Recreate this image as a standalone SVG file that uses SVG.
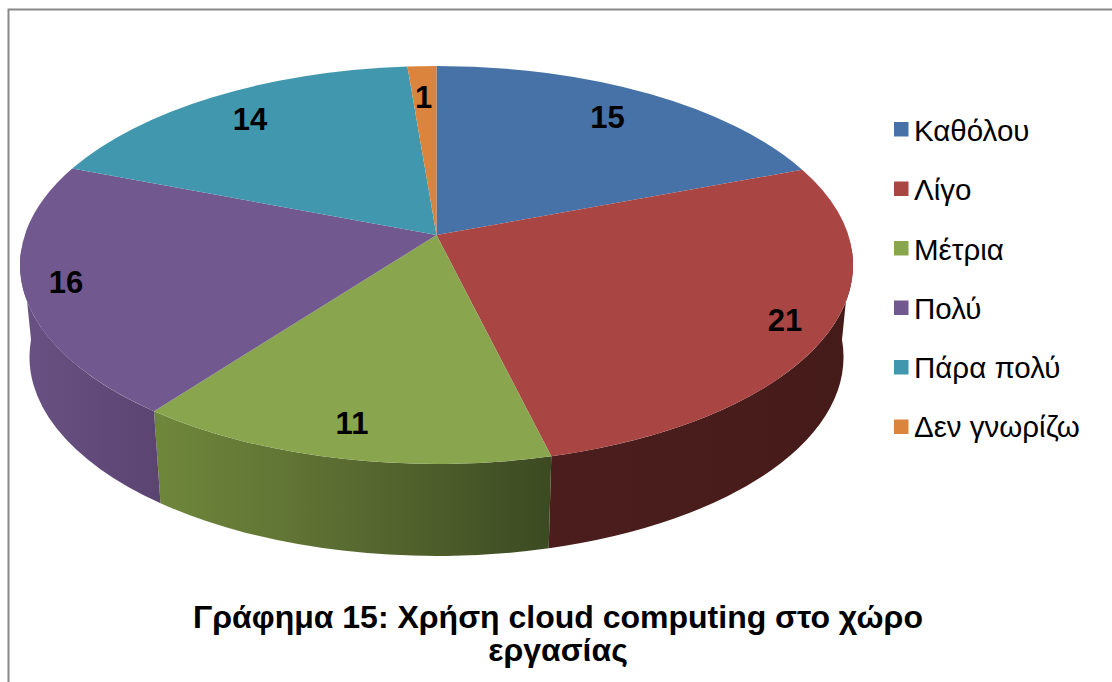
<svg xmlns="http://www.w3.org/2000/svg" width="1112" height="682" viewBox="0 0 1112 682">
  <style>
    .val { font-family: "Liberation Sans", Arial, sans-serif; font-weight: bold; font-size: 31px; fill: #000; text-anchor: middle; }
    .leg { font-family: "Liberation Sans", Arial, sans-serif; font-size: 29.5px; fill: #000; }
    .ttl { font-family: "Liberation Sans", Arial, sans-serif; font-weight: bold; font-size: 32px; fill: #000; text-anchor: middle; }
    .c-blue { fill: #4672a8; }
    .c-red { fill: #a94543; }
    .c-green { fill: #89a54e; }
    .c-purple { fill: #71588f; }
    .c-teal { fill: #4197ae; }
    .c-orange { fill: #db843d; }
  </style>
  <defs>
    <linearGradient id="sideRed" gradientUnits="userSpaceOnUse" x1="548" y1="0" x2="852" y2="0">
      <stop offset="0" stop-color="#4b1e1d"/>
      <stop offset="1" stop-color="#451b1a"/>
    </linearGradient>
    <linearGradient id="sideGreen" gradientUnits="userSpaceOnUse" x1="154" y1="0" x2="551" y2="0">
      <stop offset="0" stop-color="#6f873b"/>
      <stop offset="0.4" stop-color="#5e7133"/>
      <stop offset="1" stop-color="#3c4a22"/>
    </linearGradient>
    <linearGradient id="sidePurple" gradientUnits="userSpaceOnUse" x1="21" y1="0" x2="161" y2="0">
      <stop offset="0" stop-color="#6a5184"/>
      <stop offset="1" stop-color="#5a4470"/>
    </linearGradient>
  </defs>

  <!-- chart frame (right and bottom edges run off the canvas) -->
  <rect x="8.5" y="9.5" width="1200" height="800" fill="#ffffff" stroke="#888888" stroke-width="2"/>

  <!-- 3D pie: top ellipse c=(436.5,265) r=(416.5,199); base ellipse c=(436.5,357) r=(407,199); apex (436.5,235) -->
  <g id="slice-kathólou">
    <path class="c-blue" d="M436.5,235 L436.5,66 A416.5,199 0 0 1 802.2,169.7 Z"/>
    <text class="val" x="607.5" y="128">15</text>
  </g>

  <g id="slice-ligo">
    <path fill="url(#sideRed)" d="M851.4,247.7 A416.5,199 0 0 1 551.3,456.3 L548.7,548.3 A407,199 0 0 0 842,339.7 Z"/>
    <path class="c-red" d="M436.5,235 L802.2,169.7 A416.5,199 0 0 1 551.3,456.3 Z"/>
    <text class="val" x="785" y="331">21</text>
  </g>

  <g id="slice-metria">
    <path fill="url(#sideGreen)" d="M551.3,456.3 A416.5,199 0 0 1 154,411.2 L160.5,503.2 A407,199 0 0 0 548.7,548.3 Z"/>
    <path class="c-green" d="M436.5,235 L551.3,456.3 A416.5,199 0 0 1 154,411.2 Z"/>
    <text class="val" x="352" y="434">11</text>
  </g>

  <g id="slice-poly">
    <path fill="url(#sidePurple)" d="M154,411.2 A416.5,199 0 0 1 21.6,247.7 L31,339.7 A407,199 0 0 0 160.5,503.2 Z"/>
    <path class="c-purple" d="M436.5,235 L154,411.2 A416.5,199 0 0 1 72.2,168.5 Z"/>
    <text class="val" x="66" y="293">16</text>
  </g>

  <g id="slice-para-poly">
    <path class="c-teal" d="M436.5,235 L72.2,168.5 A416.5,199 0 0 1 407.4,66.5 Z"/>
    <text class="val" x="250" y="130">14</text>
  </g>

  <g id="slice-den-gnorizo">
    <path class="c-orange" d="M436.5,235 L407.4,66.5 A416.5,199 0 0 1 436.5,66 Z"/>
    <text class="val" x="423.5" y="108">1</text>
  </g>

  <!-- legend -->
  <g id="legend">
    <g id="legend-kathólou">
      <rect class="c-blue" x="894" y="122" width="14.5" height="14.5"/>
      <text class="leg" x="914" y="141">Καθόλου</text>
    </g>
    <g id="legend-ligo">
      <rect class="c-red" x="894" y="181.5" width="14.5" height="14.5"/>
      <text class="leg" x="914" y="200">Λίγο</text>
    </g>
    <g id="legend-metria">
      <rect class="c-green" x="894" y="241" width="14.5" height="14.5"/>
      <text class="leg" x="914" y="259.5">Μέτρια</text>
    </g>
    <g id="legend-poly">
      <rect class="c-purple" x="894" y="300.5" width="14.5" height="14.5"/>
      <text class="leg" x="914" y="319">Πολύ</text>
    </g>
    <g id="legend-para-poly">
      <rect class="c-teal" x="894" y="360" width="14.5" height="14.5"/>
      <text class="leg" x="914" y="378">Πάρα πολύ</text>
    </g>
    <g id="legend-den-gnorizo">
      <rect class="c-orange" x="894" y="419.5" width="14.5" height="14.5"/>
      <text class="leg" x="914" y="437">Δεν γνωρίζω</text>
    </g>
  </g>

  <!-- caption -->
  <g id="caption">
    <text class="ttl" x="558" y="628">Γράφημα 15: Χρήση cloud computing στο χώρο</text>
    <text class="ttl" x="558" y="661">εργασίας</text>
  </g>
</svg>
